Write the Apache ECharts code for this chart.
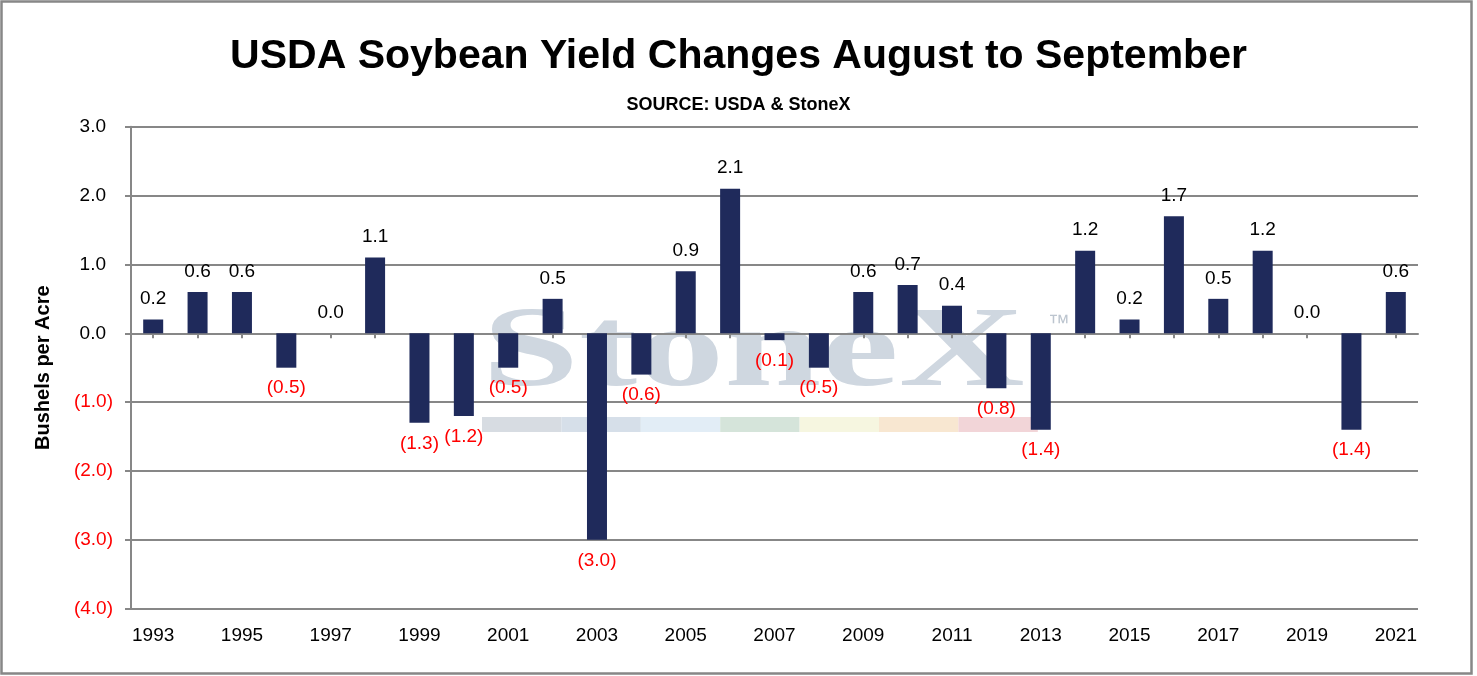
<!DOCTYPE html>
<html>
<head>
<meta charset="utf-8">
<script src="https://cdn.jsdelivr.net/npm/echarts@6/dist/echarts.min.js"></script>
<style>
  html, body { margin: 0; padding: 0; background: #fff; }
  #chart { width: 1477px; height: 676px; }
</style>
</head>
<body>
<div id="chart"></div>
<script>
var years = ['1993', '1994', '1995', '1996', '1997', '1998', '1999', '2000', '2001', '2002',
    '2003', '2004', '2005', '2006', '2007', '2008', '2009', '2010', '2011', '2012',
    '2013', '2014', '2015', '2016', '2017', '2018', '2019', '2020', '2021'];
var yieldChange = [0.2, 0.6, 0.6, -0.5, 0.0, 1.1, -1.3, -1.2, -0.5, 0.5,
    -3.0, -0.6, 0.9, 2.1, -0.1, -0.5, 0.6, 0.7, 0.4, -0.8,
    -1.4, 1.2, 0.2, 1.7, 0.5, 1.2, 0.0, -1.4, 0.6];
var yTicks = { min: -4, max: 3, step: 1 };

var chart = echarts.init(document.getElementById('chart'));

function fmt(v) {
    return v < 0 ? '(' + Math.abs(v).toFixed(1) + ')' : v.toFixed(1);
}

// StoneX watermark behind the bars
var bandColors = ['#d7dce2', '#d6dfe9', '#e2edf6', '#d5e4da', '#f6f6e0', '#f8e7d1', '#f2d5d8'];
var watermark = [
    {
        type: 'text', z: -10, x: 482, y: 413, scaleX: 1.53, scaleY: 1,
        style: { text: 'StoneX', font: 'bold 114px "Liberation Serif"', fill: '#cfd7e0', textVerticalAlign: 'bottom' }
    },
    {
        type: 'text', z: -10, x: 1048, y: 313,
        style: { text: '\u2122', font: '22px "Liberation Sans"', fill: '#bcc5cf' }
    }
];
bandColors.forEach(function (c, i) {
    watermark.push({
        type: 'rect', z: -10,
        shape: { x: 482 + i * 79.4, y: 417, width: 79.4, height: 15 },
        style: { fill: c }
    });
});
watermark.push({
    type: 'rect', z: 100,
    shape: { x: 1.5, y: 1.5, width: 1470, height: 672 },
    style: { fill: 'none', stroke: '#878787', lineWidth: 2.5 }
});

var option = {
    backgroundColor: '#fff',
    animation: false,
    textStyle: { fontFamily: '"Liberation Sans", Arial, sans-serif' },
    title: [
        {
            text: 'USDA Soybean Yield Changes August to September',
            left: 'center', top: 31,
            textStyle: { fontSize: 41, fontWeight: 'bold', color: '#000' }
        },
        {
            text: 'SOURCE: USDA & StoneX',
            left: 'center', top: 91,
            textStyle: { fontSize: 18, fontWeight: 'bold', color: '#000' }
        }
    ],
    graphic: watermark,
    grid: { left: 131, right: 59, top: 126.7, bottom: 67.3 },
    xAxis: [
        {
            type: 'category',
            data: years,
            axisLine: { onZero: true, lineStyle: { color: '#878787', width: 2 } },
            axisTick: { show: true, alignWithLabel: true, length: 5, lineStyle: { color: '#878787', width: 2 } },
            axisLabel: { show: false }
        },
        {
            type: 'category',
            data: years,
            position: 'bottom',
            axisLine: { show: false, onZero: false },
            axisTick: { show: false },
            axisLabel: { interval: 1, margin: 18, fontSize: 19, color: '#000' }
        }
    ],
    yAxis: {
        type: 'value',
        min: yTicks.min, max: yTicks.max, interval: yTicks.step,
        name: 'Bushels per Acre',
        nameLocation: 'middle',
        nameGap: 78,
        nameTextStyle: { fontSize: 20, fontWeight: 'bold', color: '#000' },
        axisLine: { show: true, lineStyle: { color: '#878787', width: 2 } },
        axisTick: { show: true, length: 6, lineStyle: { color: '#878787', width: 2 } },
        splitLine: { lineStyle: { color: '#878787', width: 2 } },
        axisLabel: {
            margin: 18, fontSize: 19,
            formatter: function (v) {
                return v < 0 ? '{neg|' + fmt(v) + '}' : '{pos|' + fmt(v) + '}';
            },
            rich: {
                neg: { color: '#ff0000', fontSize: 19 },
                pos: { color: '#000', fontSize: 19, padding: [0, 7, 0, 0] }
            }
        }
    },
    series: [
        {
            type: 'bar',
            xAxisIndex: 0,
            barWidth: 20,
            itemStyle: { color: '#1f2a5b' },
            data: yieldChange.map(function (v) {
                return {
                    value: v,
                    label: {
                        show: true,
                        position: v < 0 ? 'bottom' : 'top',
                        distance: 11,
                        color: v < 0 ? '#ff0000' : '#000',
                        fontSize: 19,
                        formatter: fmt(v)
                    }
                };
            })
        }
    ]
};

chart.setOption(option);
</script>
</body>
</html>
